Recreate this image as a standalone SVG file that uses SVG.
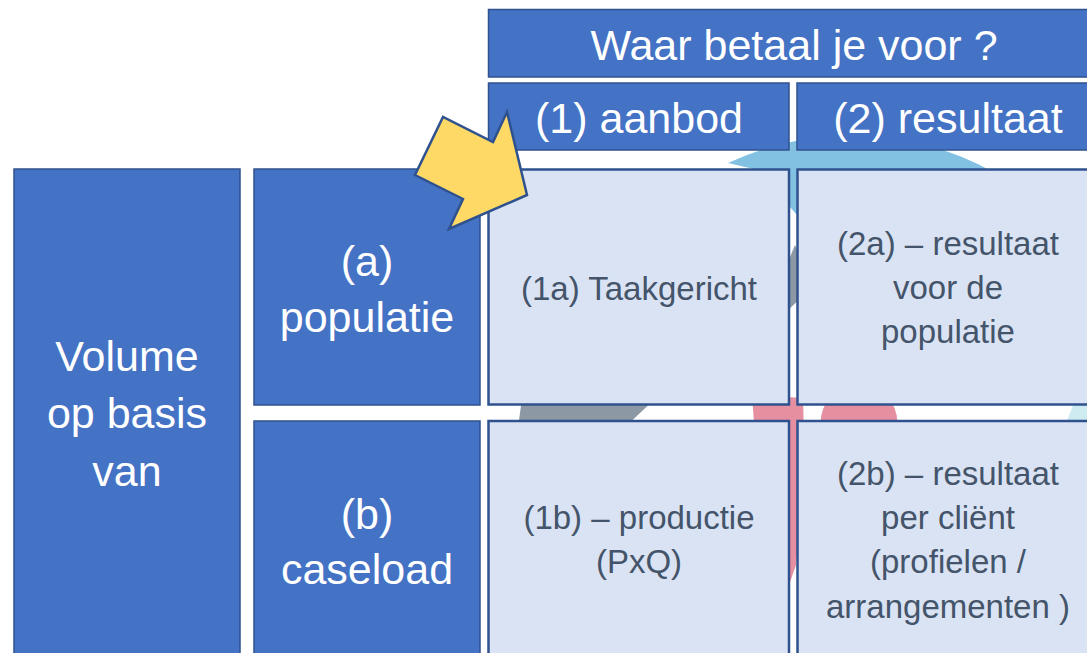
<svg xmlns="http://www.w3.org/2000/svg" width="1087" height="653" viewBox="0 0 1087 653">
<style>
.dark{fill:#4472C4;stroke:#2F528F;stroke-width:1.5}
.light{fill:#DAE3F3;stroke:#2F528F;stroke-width:2.5}
.hw{font-family:"Liberation Sans",Arial,sans-serif;font-size:43px;fill:#FFFFFF;text-anchor:middle}
.ct{font-family:"Liberation Sans",Arial,sans-serif;font-size:33px;fill:#44546A;text-anchor:middle}
</style>
<rect x="0" y="0" width="1087" height="653" fill="#FFFFFF"/>
<g id="background-cycle">
<path d="M728,163 A292,292 0 0 1 1010,182 L960,240 A226,226 0 0 0 797,215 L789,206 L758,170 Z" fill="#83C1E3"/>
<path d="M795,245 L801,258 L801,298 L788,310 L788,262 Z" fill="#8C99A5"/>
<path d="M522,398 L656,398 L624,428 L518,428 Z" fill="#8C99A5"/>
<path d="M752,395 Q758,500 789,585 L796,565 Q806,480 803,398 Z" fill="#E68FA1"/>
<circle cx="859" cy="423" r="38.5" fill="#E68FA1"/>
<path d="M1076,398 L1090,398 L1090,428 L1064,428 Z" fill="#CEEBF1"/>
</g>
<g id="header-waar">
<rect class="dark" x="488.5" y="9.5" width="650" height="67.5"/>
<text class="hw" x="794" y="60">Waar betaal je voor ?</text>
</g>
<g id="header-aanbod">
<rect class="dark" x="488.5" y="83" width="300.5" height="67"/>
<text class="hw" x="639" y="133">(1) aanbod</text>
</g>
<g id="header-resultaat">
<rect class="dark" x="797" y="83" width="320" height="67"/>
<text class="hw" x="948" y="133">(2) resultaat</text>
</g>
<g id="row-volume">
<rect class="dark" x="14" y="169" width="226" height="500"/>
<text class="hw" x="127" y="371">Volume</text>
<text class="hw" x="127" y="428">op basis</text>
<text class="hw" x="127" y="486">van</text>
</g>
<g id="row-a">
<rect class="dark" x="254" y="169" width="226" height="236"/>
<text class="hw" x="367" y="276">(a)</text>
<text class="hw" x="367" y="332">populatie</text>
</g>
<g id="row-b">
<rect class="dark" x="254" y="421" width="226" height="260"/>
<text class="hw" x="367" y="529">(b)</text>
<text class="hw" x="367" y="584">caseload</text>
</g>
<g id="cell-1a">
<rect class="light" x="488.5" y="169.5" width="300.5" height="235"/>
<text class="ct" x="639" y="300">(1a) Taakgericht</text>
</g>
<g id="cell-2a">
<rect class="light" x="797.5" y="169.5" width="320" height="235"/>
<text class="ct" x="948" y="255">(2a) – resultaat</text>
<text class="ct" x="948" y="299">voor de</text>
<text class="ct" x="948" y="343">populatie</text>
</g>
<g id="cell-1b">
<rect class="light" x="488.5" y="421" width="300.5" height="260"/>
<text class="ct" x="639" y="529">(1b) – productie</text>
<text class="ct" x="639" y="573">(PxQ)</text>
</g>
<g id="cell-2b">
<rect class="light" x="797.5" y="421" width="320" height="260"/>
<text class="ct" x="948" y="485">(2b) – resultaat</text>
<text class="ct" x="948" y="529">per cliënt</text>
<text class="ct" x="948" y="573">(profielen /</text>
<text class="ct" x="948" y="618">arrangementen )</text>
</g>
<g id="pointer-arrow">
<polygon points="527,195 449,229 463,199 415,175 443,117 493,142 507,112" fill="#FFD966" stroke="#2F528F" stroke-width="2.5" stroke-linejoin="miter"/>
</g>
</svg>
